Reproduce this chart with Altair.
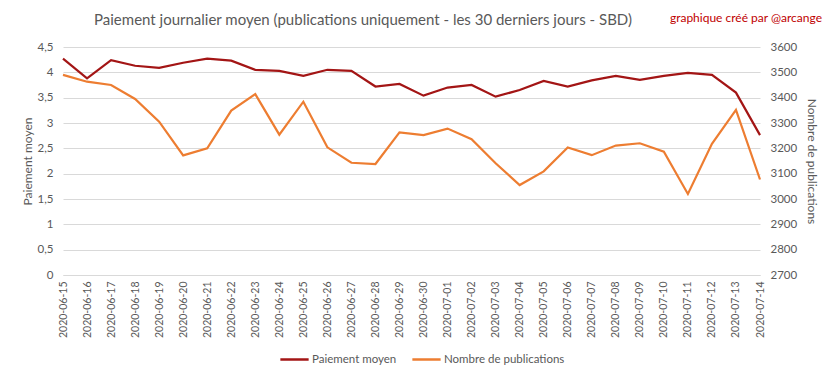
import altair as alt
import pandas as pd

dates = ["2020-06-15", "2020-06-16", "2020-06-17", "2020-06-18", "2020-06-19",
         "2020-06-20", "2020-06-21", "2020-06-22", "2020-06-23", "2020-06-24",
         "2020-06-25", "2020-06-26", "2020-06-27", "2020-06-28", "2020-06-29",
         "2020-06-30", "2020-07-01", "2020-07-02", "2020-07-03", "2020-07-04",
         "2020-07-05", "2020-07-06", "2020-07-07", "2020-07-08", "2020-07-09",
         "2020-07-10", "2020-07-11", "2020-07-12", "2020-07-13", "2020-07-14"]

paiement = [4.27, 3.88, 4.24, 4.13, 4.09, 4.19, 4.27, 4.23, 4.05, 4.03,
            3.93, 4.05, 4.03, 3.72, 3.77, 3.54, 3.70, 3.75, 3.52, 3.65,
            3.83, 3.72, 3.84, 3.93, 3.85, 3.93, 3.99, 3.95, 3.60, 2.76]

publications = [3490, 3463, 3450, 3395, 3305, 3172, 3200, 3349, 3414, 3254,
                3384, 3204, 3143, 3138, 3263, 3252, 3278, 3236, 3141, 3055,
                3109, 3203, 3173, 3211, 3220, 3187, 3020, 3218, 3352, 3077]

left_ticks = [0, 0.5, 1, 1.5, 2, 2.5, 3, 3.5, 4, 4.5]
right_ticks = [2700, 2800, 2900, 3000, 3100, 3200, 3300, 3400, 3500, 3600]

series_names = ["Paiement moyen", "Nombre de publications"]
series_colors = ["#A31515", "#ED7D31"]

title_text = ["Paiement journalier moyen (publications uniquement  - les 30 derniers jours - SBD)"]
credit_text = ["graphique créé par @arcange"]

df = pd.DataFrame({"date": dates, "paiement": paiement, "publications": publications})

FONT = "Lato"
GRAY = "#595959"

color_scale = alt.Scale(domain=series_names, range=series_colors)
color_enc = alt.Color("series:N", scale=color_scale,
                      legend=alt.Legend(title=None, orient="none", direction="horizontal",
                                        legendX=216, legendY=297,
                                        symbolType="stroke", symbolSize=800,
                                        symbolStrokeWidth=2.5, labelFont=FONT,
                                        labelFontSize=11.5, labelColor=GRAY,
                                        labelOffset=2, columnPadding=10))

x_enc = alt.X("date:O", title=None, sort=None,
              scale=alt.Scale(paddingInner=0, paddingOuter=0, padding=0.5),
              axis=alt.Axis(labelAngle=-90, labelColor=GRAY, labelFont=FONT,
                            labelFontSize=10.5, ticks=False, domain=True,
                            domainColor="#d9d9d9", labelPadding=6))

left = alt.Chart(df).transform_calculate(series="'Paiement moyen'").mark_line(strokeWidth=2.2).encode(
    x=x_enc,
    y=alt.Y("paiement:Q", title="Paiement moyen",
            scale=alt.Scale(domain=[0, 4.5], nice=False),
            axis=alt.Axis(values=left_ticks, grid=True, gridColor="#d9d9d9",
                          domain=False, ticks=False, labelColor=GRAY,
                          labelFont=FONT, labelFontSize=11.5, labelPadding=10,
                          labelExpr="replace(toString(datum.value), '.', ',')",
                          titleColor=GRAY, titleFont=FONT, titleFontSize=12,
                          titleFontWeight="normal", titlePadding=3)),
    color=color_enc,
)

right = alt.Chart(df).transform_calculate(series="'Nombre de publications'").mark_line(strokeWidth=2.2).encode(
    x=x_enc,
    y=alt.Y("publications:Q", title="Nombre de publications",
            scale=alt.Scale(domain=[2700, 3600], nice=False),
            axis=alt.Axis(orient="right", values=right_ticks, grid=False,
                          domain=False, ticks=False, labelColor=GRAY,
                          labelFont=FONT, labelFontSize=11.5, labelPadding=10,
                          format="d", titleColor=GRAY, titleFont=FONT,
                          titleFontSize=12, titleFontWeight="normal",
                          titlePadding=8)),
    color=color_enc,
)

title = alt.Chart(pd.DataFrame({"t": title_text})).mark_text(
    font=FONT, fontSize=15, color=GRAY, align="center", baseline="middle"
).encode(text="t:N", x=alt.value(300), y=alt.value(-27))

credit = alt.Chart(pd.DataFrame({"t": credit_text})).mark_text(
    font=FONT, fontSize=12, color="#C00000", align="right", baseline="middle"
).encode(text="t:N", x=alt.value(759), y=alt.value(-29))

chart = alt.layer(right, left, title, credit).resolve_scale(y="independent").properties(
    width=697,
    height=228,
    autosize=alt.AutoSizeParams(type="none"),
    padding={"left": 55, "top": 39, "right": 65, "bottom": 96},
).configure_view(stroke=None)

chart.save("out.html", embed_options={"renderer": "svg", "actions": False})
